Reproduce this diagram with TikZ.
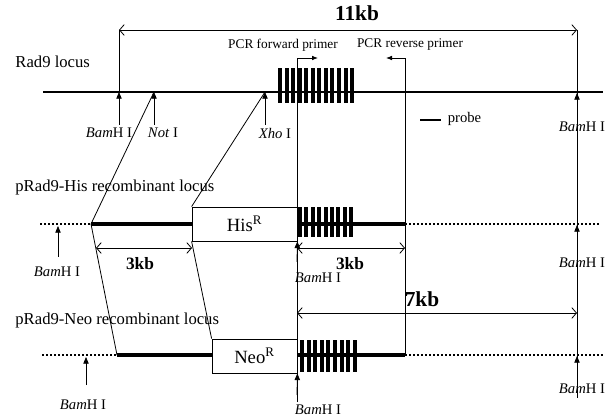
\documentclass[tikz,border=0pt]{standalone}
\usepackage{fontspec}
\setmainfont{Liberation Serif}
\usetikzlibrary{arrows.meta}

\tikzset{every picture/.style={line width=0.6pt}}
\tikzset{
  locus/.style={line width=2pt},
  recomb/.style={line width=3pt},
  flank/.style={line width=1.3pt, dash pattern=on 1.5pt off 1.5pt},
  site/.style={-{Triangle[length=5pt,width=4pt]}},
  span/.style={{Straight Barb[length=3.5pt,width=8pt]}-{Straight Barb[length=3.5pt,width=8pt]}},
  primer/.style={-{Latex[length=4.5pt,width=3.5pt]}},
  genebox/.style={draw, fill=white, inner sep=0pt, minimum height=25.5pt, font=\fontsize{14}{16}\selectfont},
  sitelbl/.style={font=\fontsize{11}{12}\selectfont},
  locuslbl/.style={anchor=west, inner sep=0pt, font=\fontsize{12.5}{14}\selectfont},
  kblbl/.style={font=\fontsize{13}{15}\selectfont\bfseries},
  primerlbl/.style={font=\fontsize{10}{12}\selectfont}
}
\newcommand{\bamh}{\textit{Bam}H I}

\begin{document}
\begin{tikzpicture}[x=0.75pt,y=0.75pt,yscale=-1]
        \useasboundingbox (0,0) rectangle (607,420);
        % sites on the Rad9 locus
        \coordinate (bamL) at (119,92);
        \coordinate (not) at (154,92);
        \coordinate (xho) at (265,92);
        \coordinate (bamR) at (577,92);
        \coordinate (fwd) at (297,58);
        \coordinate (rev) at (405,58);
        \coordinate (hisL) at (91,224);
        \coordinate (neoL) at (117,355);

        % Rad9 locus
        \node[locuslbl] (rad9) at (15,62) {Rad9 locus};
        \draw[locus] (43,92) -- (603,92);
        \foreach \i in {0,...,11} \fill ({278+6.55*\i},68) rectangle ++(4,35);
        \draw[site] (119,125) -- (bamL);
        \draw[site] (154,125) -- (not);
        \draw[site] (265,125) -- (xho);
        \node[sitelbl] (bam1) at (109,133) {\bamh};
        \node[sitelbl] (not1) at (163,133) {\textit{Not} I};
        \node[sitelbl] (xho1) at (275,133) {\textit{Xho} I};

        % 11kb
        \coordinate (top11a) at (119,30);
        \coordinate (top11b) at (577,30);
        \draw (bamL) -- (top11a);
        \draw[span] (top11a) -- (top11b);
        \node[kblbl, font=\fontsize{16}{18}\selectfont\bfseries] (kb11) at (357,13) {11kb};
        \draw (top11b) -- (577,398);
        \draw[site] (577,112) -- (577,93);
        \draw[site] (577,244) -- (577,225);
        \draw[site] (577,375) -- (577,356);
        \node[sitelbl] (bam2) at (582,127) {\bamh};
        \node[sitelbl] (bam3) at (582,263) {\bamh};
        \node[sitelbl] (bam4) at (582,389) {\bamh};

        % primers
        \node[primerlbl] (pf) at (283,45) {PCR forward primer};
        \node[primerlbl] (pr) at (410,45) {PCR reverse primer};
        \draw[primer] (297,402) -- (fwd) -- (318,58);
        \draw[primer] (405,355) -- (rev) -- (386,58);

        % probe
        \draw[line width=1.5pt] (420,120) -- (441,120);
        \node[primerlbl, anchor=west, font=\fontsize{11}{12}\selectfont] (probe) at (443,119) {probe};

        % pRad9-His recombinant locus
        \node[locuslbl] (hislbl) at (15,187) {pRad9-His recombinant locus};
        \draw[flank] (40,224) -- (hisL);
        \draw[recomb] (hisL) -- (192,224);
        \draw[recomb] (297,224) -- (405,224);
        \draw[flank] (405,224) -- (600,224);
        \node[genebox, minimum width=78.75pt] (hisbox) at (244.5,224) {His\textsuperscript{R}};
        \foreach \i in {0,...,8} \fill ({298+6.4*\i},207) rectangle ++(4,30);
        \draw[site] (58,257) -- (58,226);
        \node[sitelbl] (bam5) at (57,272) {\bamh};
        \draw[site] (297,262) -- (hisbox.south east);
        \node[sitelbl] (bam6) at (318,278) {\bamh};
        \draw[span] (96,248) -- (192,248);
        \node[kblbl] (kb3a) at (140,264) {3kb};
        \draw[span] (297,248) -- (405,248);
        \node[kblbl] (kb3b) at (350,264) {3kb};

        % pRad9-Neo recombinant locus
        \node[locuslbl] (neolbl) at (15,320) {pRad9-Neo recombinant locus};
        \draw[flank] (42,355) -- (neoL);
        \draw[recomb] (neoL) -- (212,355);
        \draw[recomb] (297,355) -- (405,355);
        \draw[flank] (405,355) -- (605,355);
        \node[genebox, minimum width=63.75pt] (neobox) at (254.5,356) {Neo\textsuperscript{R}};
        \foreach \i in {0,...,8} \fill ({300+6.6*\i},340) rectangle ++(4,32);
        \draw[site] (86,385) -- (86,357);
        \node[sitelbl] (bam7) at (83,405) {\bamh};
        \draw[site] (297,395) -- (neobox.south east);
        \node[sitelbl] (bam8) at (318,410) {\bamh};
        \draw[span] (297,313) -- (577,313);
        \node[kblbl, font=\fontsize{16}{18}\selectfont\bfseries] (kb7) at (422,299) {7kb};

        % crossover lines
        \draw (not) -- (hisL) -- (neoL);
        \draw (xho) -- (hisbox.north west);
        \draw (hisbox.south west) -- (neobox.north west);
    \end{tikzpicture}
\end{document}
